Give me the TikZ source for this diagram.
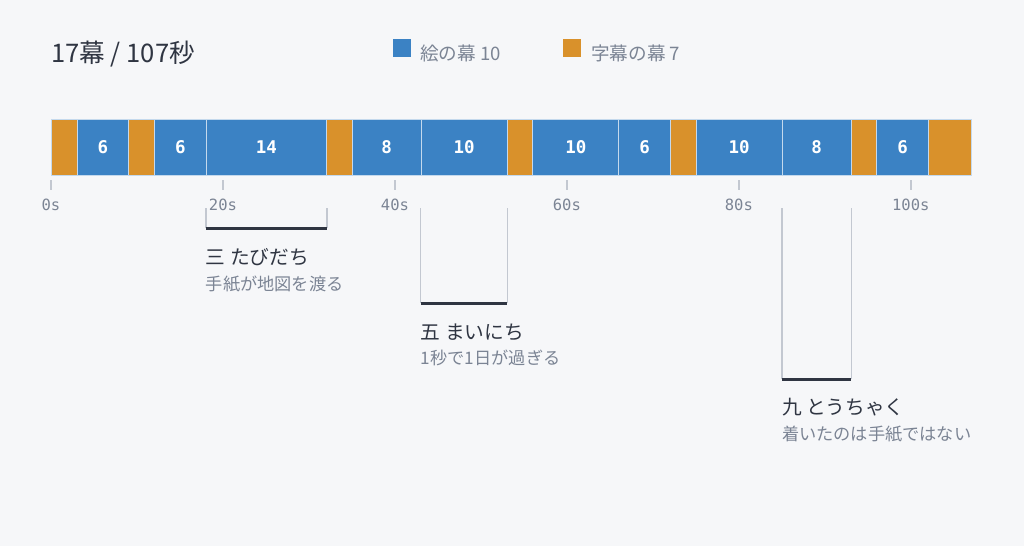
\documentclass[tikz,border=0pt]{standalone}
\usepackage{fontspec}
\setmainfont{Noto Sans CJK JP}
\newfontfamily\monofont{DejaVu Sans Mono}
\usetikzlibrary{positioning}
\definecolor{bg}{HTML}{F6F7F9}
\definecolor{scene}{HTML}{3B82C4}
\definecolor{caption}{HTML}{D9912B}
\definecolor{ink}{HTML}{2F3542}
\definecolor{muted}{HTML}{7B8494}
\definecolor{rule}{HTML}{C3C8D1}

\begin{document}
\begin{tikzpicture}[x=1pt, y=-1pt,
  seg/.style={draw=white!70!scene, line width=0.7pt, minimum height=56pt, inner sep=0pt,
    text=white, font=\monofont\bfseries\fontsize{17.5}{17.5}\selectfont},
  tick/.style={draw=rule, line width=1.5pt},
  ticklabel/.style={text=muted, font=\monofont\fontsize{15.5}{15.5}\selectfont, inner sep=0pt},
  rail/.style={draw=rule, line width=1.5pt},
  span/.style={draw=ink, line width=2.5pt},
  annohead/.style={anchor=west, inner sep=0pt, text=ink, font=\fontsize{19.7}{19.7}\selectfont},
  annosub/.style={anchor=west, inner sep=0pt, text=muted, font=\fontsize{17.2}{17.2}\selectfont},
  legtext/.style={anchor=west, inner sep=0pt, text=muted, font=\fontsize{18.6}{18.6}\selectfont}]
  \fill[bg] (0,0) rectangle (1024,546);
  \useasboundingbox (0,0) rectangle (1024,546);

  % header and legend
  \node[anchor=west, inner sep=0pt, text=ink, font=\fontsize{25.6}{25.6}\selectfont] (head) at (51,54.5) {17幕 / 107秒};
  \node[fill=scene, minimum size=18pt, inner sep=0pt] (keyscene) at (402,48) {};
  \node[legtext] (legscene) at (420,53.5) {絵の幕 10};
  \node[fill=caption, minimum size=18pt, inner sep=0pt] (keycap) at (572,48) {};
  \node[legtext] (legcap) at (591,53.5) {字幕の幕 7};

  % the bar: index/start/length/colour/label
  \foreach \i/\s/\d/\c/\l in {1/0/3/caption/{}, 2/3/6/scene/6, 3/9/3/caption/{}, 4/12/6/scene/6,
      5/18/14/scene/14, 6/32/3/caption/{}, 7/35/8/scene/8, 8/43/10/scene/10, 9/53/3/caption/{},
      10/56/10/scene/10, 11/66/6/scene/6, 12/72/3/caption/{}, 13/75/10/scene/10, 14/85/8/scene/8,
      15/93/3/caption/{}, 16/96/6/scene/6, 17/102/5/caption/{}}
    \node[seg, fill=\c, anchor=west, minimum width=\d*8.598pt] (seg\i) at (51+\s*8.598,147) {\l};

  % time axis
  \foreach \t in {0,20,...,100} {
    \draw[tick] (51+\t*8.598,180) -- ++(0,10);
    \node[ticklabel] (tk\t) at (51+\t*8.598,204.5) {\t s};
  }

  % brackets
  \draw[rail] (seg5.south west) ++(0,33) coordinate (a1) -- ++(0,20) coordinate (a2);
  \draw[rail] (seg5.south east) ++(0,33) coordinate (b1) -- ++(0,20) coordinate (b2);
  \draw[span] (a2) -- (b2);
  \path (a2) ++(0,29) node[annohead] (h1) {三 たびだち};
  \node[annosub] (s1) at ([yshift=-27pt]h1.west) {手紙が地図を渡る};

  \draw[rail] (seg8.south west) ++(0,33) coordinate (a3) -- ++(0,95) coordinate (a4);
  \draw[rail] (seg8.south east) ++(0,33) coordinate (b3) -- ++(0,95) coordinate (b4);
  \draw[span] (a4) -- (b4);
  \path (a4) ++(0,29) node[annohead] (h2) {五 まいにち};
  \node[annosub] (s2) at ([yshift=-26pt]h2.west) {1秒で1日が過ぎる};

  \draw[rail] (seg14.south west) ++(0,33) coordinate (a5) -- ++(0,171) coordinate (a6);
  \draw[rail] (seg14.south east) ++(0,33) coordinate (b5) -- ++(0,171) coordinate (b6);
  \draw[span] (a6) -- (b6);
  \path (a6) ++(0,28) node[annohead] (h3) {九 とうちゃく};
  \node[annosub] (s3) at ([yshift=-27pt]h3.west) {着いたのは手紙ではない};
\end{tikzpicture}
\end{document}
